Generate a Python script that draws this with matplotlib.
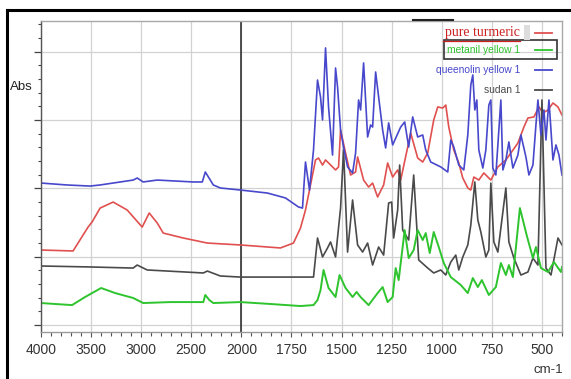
import numpy as np
import matplotlib
matplotlib.use("Agg")
import matplotlib.pyplot as plt
from matplotlib.lines import Line2D
from matplotlib.patches import Rectangle
from matplotlib.ticker import FixedLocator, MultipleLocator, NullFormatter

plt.rcParams['font.family'] = ['Liberation Sans', 'DejaVu Sans']

# FTIR spectra (wavenumber in cm-1, absorbance in arbitrary units)
turmeric_x = [4000, 3680, 3530, 3490, 3410, 3280, 3140, 2990, 2920, 2840, 2780, 2580, 2340,
              2010, 1805, 1740, 1705, 1680, 1655, 1630, 1615, 1595, 1580, 1530, 1515, 1505,
              1480, 1455, 1430, 1420, 1390, 1365, 1345, 1320, 1290, 1270, 1245, 1220, 1205,
              1155, 1120, 1095, 1070, 1040, 1020, 995, 980, 965, 940, 915, 895, 870, 855,
              840, 815, 790, 755, 720, 680, 655, 620, 590, 570, 540, 515, 495, 470, 445,
              420, 400]
turmeric_y = [0.549, 0.542, 0.717, 0.754, 0.856, 0.900, 0.842, 0.717, 0.820, 0.747, 0.673,
              0.637, 0.600, 0.586, 0.564, 0.600, 0.710, 0.842, 1.025, 1.208, 1.222, 1.171,
              1.208, 1.135, 1.157, 1.427, 1.259, 1.098, 1.120, 1.230, 1.061, 1.010, 1.039,
              0.937, 1.025, 1.186, 1.083, 1.135, 1.061, 1.405, 1.222, 1.193, 1.259, 1.501,
              1.596, 1.588, 1.610, 1.449, 1.281, 1.186, 1.076, 1.003, 0.988, 1.083, 1.061,
              1.113, 1.061, 1.157, 1.208, 1.259, 1.332, 1.449, 1.515, 1.523, 1.596, 1.552,
              1.574, 1.625, 1.596, 1.537]

metanil_x = [4000, 3860, 3690, 3560, 3400, 3260, 3080, 2980, 2710, 2380, 2360, 2320, 2280,
             2010, 1855, 1705, 1640, 1620, 1605, 1590, 1565, 1530, 1510, 1480, 1445, 1425,
             1405, 1365, 1320, 1295, 1270, 1245, 1230, 1215, 1185, 1165, 1140, 1120, 1095,
             1080, 1060, 1040, 1015, 990, 955, 905, 870, 845, 820, 800, 765, 730, 705, 680,
             665, 645, 610, 575, 545, 530, 505, 470, 440, 405, 400]
metanil_y = [0.161, 0.154, 0.146, 0.205, 0.271, 0.234, 0.198, 0.161, 0.168, 0.168, 0.220,
             0.183, 0.161, 0.168, 0.154, 0.139, 0.146, 0.183, 0.256, 0.403, 0.271, 0.205,
             0.366, 0.271, 0.205, 0.242, 0.205, 0.146, 0.234, 0.278, 0.168, 0.205, 0.417,
             0.329, 0.695, 0.490, 0.549, 0.695, 0.622, 0.673, 0.527, 0.681, 0.571, 0.454,
             0.351, 0.293, 0.234, 0.344, 0.278, 0.329, 0.220, 0.278, 0.454, 0.366, 0.439,
             0.351, 0.856, 0.651, 0.490, 0.571, 0.417, 0.388, 0.461, 0.388, 0.425]

queenolin_x = [4000, 3740, 3510, 3410, 3080, 3040, 2980, 2840, 2480, 2390, 2360, 2280, 2210,
               2010, 1870, 1780, 1715, 1695, 1680, 1660, 1640, 1620, 1605, 1595, 1580, 1565,
               1545, 1530, 1520, 1505, 1490, 1470, 1445, 1430, 1415, 1405, 1390, 1370, 1355,
               1345, 1330, 1315, 1295, 1280, 1265, 1245, 1205, 1185, 1165, 1145, 1120, 1095,
               1080, 1055, 1005, 970, 955, 940, 915, 890, 870, 855, 845, 835, 825, 815, 795,
               780, 765, 755, 745, 730, 715, 705, 695, 680, 665, 645, 620, 605, 580, 565,
               545, 530, 520, 505, 490, 480, 465, 445, 430, 415, 400]
queenolin_y = [1.039, 1.025, 1.017, 1.025, 1.061, 1.076, 1.047, 1.061, 1.047, 1.047, 1.120,
               1.025, 1.003, 0.988, 0.966, 0.930, 0.864, 0.856, 1.193, 0.988, 1.281, 1.793,
               1.669, 1.501, 2.028, 1.596, 1.244, 1.881, 1.742, 1.427, 1.303, 1.157, 1.113,
               1.259, 1.647, 1.574, 1.918, 1.376, 1.464, 1.449, 1.852, 1.669, 1.427, 1.296,
               1.479, 1.318, 1.449, 1.486, 1.303, 1.523, 1.376, 1.391, 1.281, 1.193, 1.157,
               1.120, 1.354, 1.303, 1.171, 1.135, 1.391, 1.757, 1.830, 1.574, 1.647, 1.281,
               1.149, 1.281, 1.610, 1.647, 1.149, 1.098, 1.427, 1.647, 1.135, 1.208, 1.340,
               1.149, 1.244, 1.391, 1.230, 1.098, 1.171, 1.464, 1.647, 1.391, 1.574, 1.354,
               1.647, 1.208, 1.318, 1.244, 1.098]

sudan_x = [4000, 3510, 3080, 3040, 2940, 2380, 2340, 2210, 2010, 1705, 1640, 1620, 1595,
           1570, 1555, 1530, 1505, 1490, 1470, 1445, 1420, 1395, 1370, 1345, 1315, 1290,
           1265, 1250, 1240, 1220, 1210, 1195, 1165, 1140, 1115, 1070, 1040, 1005, 980, 955,
           930, 915, 895, 870, 855, 835, 820, 805, 780, 765, 755, 740, 720, 680, 665, 640,
           605, 570, 545, 520, 500, 480, 455, 420, 400]
sudan_y = [0.432, 0.425, 0.417, 0.439, 0.403, 0.381, 0.395, 0.359, 0.351, 0.351, 0.351,
           0.637, 0.498, 0.564, 0.608, 0.498, 0.856, 1.281, 0.534, 0.915, 0.586, 0.534,
           0.600, 0.439, 0.571, 0.512, 0.893, 0.900, 0.637, 0.842, 1.171, 0.695, 0.622,
           1.098, 0.476, 0.417, 0.381, 0.403, 0.366, 0.461, 0.512, 0.403, 0.498, 0.586,
           0.732, 1.047, 0.769, 0.681, 0.498, 0.549, 1.039, 0.608, 0.534, 1.003, 0.608,
           0.490, 0.366, 0.388, 0.490, 0.439, 1.647, 0.417, 0.366, 0.637, 0.586]

x_ticks = [4000, 3500, 3000, 2500, 2000, 1750, 1500, 1250, 1000, 750, 500]
legend_names = ["pure turmeric", "metanil yellow 1", "queenolin yellow 1", "sudan 1"]
legend_colors = ["#e0504f", "#2ec42e", "#4848cc", "#4a4a4a"]


# spectrometer axis: half scale above 2000 cm-1
def fwd(v):
    v = np.asarray(v, dtype=float)
    return np.where(v >= 2000, 2000 + (v - 2000) * 0.5, v)


def inv(u):
    u = np.asarray(u, dtype=float)
    return np.where(u >= 2000, 2000 + (u - 2000) * 2.0, u)


fig = plt.figure(figsize=(5.71, 3.79), dpi=100)
ax = fig.add_axes([0.0718, 0.124, 0.9124, 0.8206])

ax.set_xscale('function', functions=(fwd, inv))
ax.set_xlim(4000, 400)
ax.set_ylim(-0.051, 2.225)

ax.xaxis.set_major_locator(FixedLocator(x_ticks))
ax.xaxis.set_minor_locator(FixedLocator(list(range(4000, 2000, -100)) + list(range(2000, 399, -50))))
ax.xaxis.set_minor_formatter(NullFormatter())
ax.yaxis.set_major_locator(MultipleLocator(0.5))
ax.yaxis.set_minor_locator(MultipleLocator(0.1))
ax.set_yticklabels([])
ax.set_xticklabels([str(t) for t in x_ticks])

ax.grid(True, which='major', color='#d2d2d2', lw=0.9)
ax.set_axisbelow(True)
ax.tick_params(axis='x', which='major', direction='out', length=3.8, width=0.8,
               colors='#555555', labelcolor='#333333', labelsize=10, pad=4)
ax.tick_params(axis='x', which='minor', direction='out', length=3.0, width=0.8, colors='#555555')
ax.tick_params(axis='y', which='major', direction='out', length=5, width=0.9, colors='#444444')
ax.tick_params(axis='y', which='minor', direction='out', length=2.5, width=0.8, colors='#444444')

for side, c in [('left', '#555555'), ('bottom', '#9a9a9a'), ('top', '#a8a8a8'), ('right', '#a8a8a8')]:
    ax.spines[side].set_color(c)
    ax.spines[side].set_linewidth(1.0)

ax.axvline(2000, color='#222222', lw=1.1)

ax.plot(turmeric_x, turmeric_y, color=legend_colors[0], lw=1.2)
ax.plot(sudan_x, sudan_y, color=legend_colors[3], lw=1.2)
ax.plot(metanil_x, metanil_y, color=legend_colors[1], lw=1.4)
ax.plot(queenolin_x, queenolin_y, color=legend_colors[2], lw=1.2)

fig.text(0.037, 0.770, "Abs", fontsize=9.5, color='#222222', ha='center', va='center')
fig.text(0.960, 0.024, "cm-1", fontsize=9.5, color='#333333', ha='center', va='center')

# legend drawn by hand, as in the instrument printout
rows_y = [0.913, 0.868, 0.815, 0.763]
for name, col, ry in zip(legend_names, legend_colors, rows_y):
    if name == "pure turmeric":
        fig.text(0.9107, ry, name, fontsize=10, color='#cc2222', ha='right', va='center',
                 family='Liberation Serif')
    else:
        fig.text(0.9107, ry, name, fontsize=7.4, color=col, ha='right', va='center')
    fig.add_artist(Line2D([0.937, 0.967], [ry, ry], transform=fig.transFigure, color=col, lw=1.3))

fig.add_artist(Line2D([0.776, 0.9107], [0.893, 0.893], transform=fig.transFigure, color='#cc2222', lw=0.9))
fig.add_artist(Rectangle((0.777, 0.844), 0.198, 0.050, transform=fig.transFigure,
                         fill=False, edgecolor='#333333', lw=1.2))
fig.add_artist(Rectangle((0.918, 0.894), 0.011, 0.040, transform=fig.transFigure,
                         facecolor='#dddddd', edgecolor='none'))
fig.add_artist(Line2D([0.723, 0.793], [0.947, 0.947], transform=fig.transFigure, color='#222222', lw=1.5))

# outer frame of the screenshot
fig.add_artist(Line2D([0.0123, 0.0123], [0.0, 0.974], transform=fig.transFigure, color='black', lw=2.2))
fig.add_artist(Line2D([0.0123, 1.0], [0.974, 0.974], transform=fig.transFigure, color='black', lw=2.2))

fig.savefig("out.png", dpi=100)
